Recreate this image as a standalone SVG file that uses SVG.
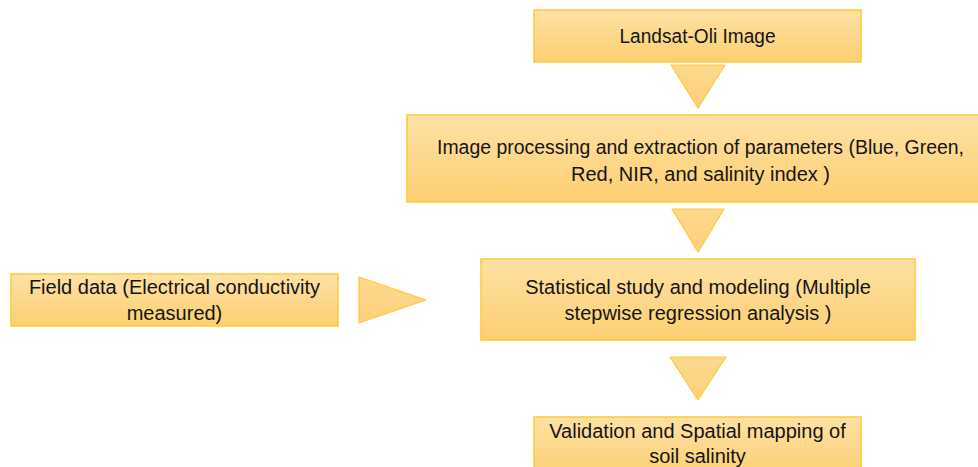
<svg xmlns="http://www.w3.org/2000/svg" width="978" height="467" viewBox="0 0 978 467">
<defs>
<linearGradient id="gBox" x1="0" y1="0" x2="0" y2="1">
<stop offset="0" stop-color="#FEE1A4"/>
<stop offset="1" stop-color="#FCCF72"/>
</linearGradient>
<linearGradient id="gTri" x1="0" y1="0" x2="0" y2="1">
<stop offset="0" stop-color="#FDD98E"/>
<stop offset="1" stop-color="#FCD07A"/>
</linearGradient>
</defs>
<style>
.box{fill:url(#gBox);stroke:#FFC939;stroke-width:1.5}
.tri{fill:url(#gTri);stroke:#FFC939;stroke-width:1.2;stroke-linejoin:round}
text{font-family:"Liberation Sans",Arial,sans-serif;font-size:20px;fill:#151515;text-anchor:middle}
</style>
<rect width="978" height="467" fill="#FFFFFF"/>
<g id="landsat">
<rect class="box" x="534" y="10" width="327" height="52"/>
<text x="697.5" y="43" textLength="156" lengthAdjust="spacingAndGlyphs">Landsat-Oli Image</text>
</g>
<g id="processing">
<rect class="box" x="407" y="115" width="590" height="87"/>
<text x="700.5" y="154" textLength="527" lengthAdjust="spacingAndGlyphs">Image processing and extraction of parameters (Blue, Green,</text>
<text x="700.5" y="181">Red, NIR, and salinity index )</text>
</g>
<g id="statistical">
<rect class="box" x="481" y="259" width="434" height="81"/>
<text x="698" y="294">Statistical study and modeling (Multiple</text>
<text x="698" y="320">stepwise regression analysis )</text>
</g>
<g id="field">
<rect class="box" x="11" y="274" width="327" height="52"/>
<text x="174.5" y="294">Field data (Electrical conductivity</text>
<text x="174.5" y="320">measured)</text>
</g>
<g id="validation">
<rect class="box" x="534" y="417" width="327" height="60"/>
<text x="697.5" y="438">Validation and Spatial mapping of</text>
<text x="697.5" y="463">soil salinity</text>
</g>
<g id="connectors">
<polygon class="tri" points="671,65 725,65 698,108"/>
<polygon class="tri" points="672,209 724,209 698,252"/>
<polygon class="tri" points="670,357 726,357 698,400"/>
<polygon class="tri" points="359,277 359,323 426,300"/>
</g>
</svg>
